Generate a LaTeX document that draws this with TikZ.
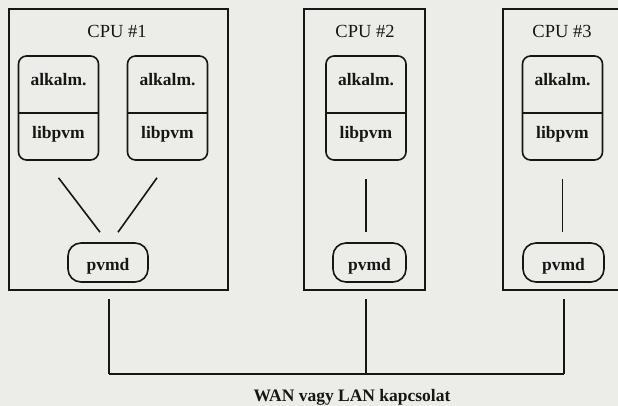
\documentclass[tikz,border=0pt]{standalone}
\usepackage{fontspec}
\setmainfont{Liberation Serif}
\definecolor{paper}{RGB}{236,236,232}
\definecolor{ink}{RGB}{22,22,22}
\begin{document}
\begin{tikzpicture}[x=1pt, y=-1pt, color=ink, line width=1.6pt,
      cpubox/.style={draw, minimum height=281pt},
      appbox/.style={draw, rounded corners=8pt, minimum width=80pt, minimum height=104pt},
      pvmdbox/.style={draw, rounded corners=13pt, minimum height=39pt, text height=19pt, text depth=3pt, font=\fontsize{17.5}{20}\selectfont\bfseries},
      cpulbl/.style={anchor=base, font=\fontsize{18.5}{20}\selectfont},
      applbl/.style={anchor=base, font=\fontsize{17.5}{20}\selectfont\bfseries},
      conn/.style={line width=1.6pt},
      bus/.style={line width=2.6pt}]
    \fill[paper] (0,0) rectangle (618,406);
    \useasboundingbox (0,0) rectangle (618,406);
    % the three machines
    \node[cpubox, minimum width=219pt] (cpu1) at (118.5,149.5) {};
    \node[cpubox, minimum width=121pt] (cpu2) at (364.5,149.5) {};
    \node[cpubox, minimum width=122pt] (cpu3) at (564,149.5) {};
    \node[cpulbl] (cpu1lbl) at (117,38) {CPU \#1};
    \node[cpulbl] (cpu2lbl) at (365,38) {CPU \#2};
    \node[cpulbl] (cpu3lbl) at (562,38) {CPU \#3};
    % application processes
    \node[appbox] (app1) at (58.5,108) {};
    \node[appbox] (app2) at (167.5,108) {};
    \node[appbox] (app3) at (366,108) {};
    \node[appbox] (app4) at (562.5,108) {};
    \draw ([yshift=-5pt]app1.west) -- ([yshift=-5pt]app1.east);
    \draw ([yshift=-5pt]app2.west) -- ([yshift=-5pt]app2.east);
    \draw ([yshift=-5pt]app3.west) -- ([yshift=-5pt]app3.east);
    \draw ([yshift=-5pt]app4.west) -- ([yshift=-5pt]app4.east);
    \node[applbl] (alk1) at ([yshift=22pt]app1.center) {alkalm.};
    \node[applbl] (alk2) at ([yshift=22pt]app2.center) {alkalm.};
    \node[applbl] (alk3) at ([yshift=22pt]app3.center) {alkalm.};
    \node[applbl] (alk4) at ([yshift=22pt]app4.center) {alkalm.};
    \node[applbl] (lib1) at ([yshift=-31pt]app1.center) {libpvm};
    \node[applbl] (lib2) at ([yshift=-31pt]app2.center) {libpvm};
    \node[applbl] (lib3) at ([yshift=-31pt]app3.center) {libpvm};
    \node[applbl] (lib4) at ([yshift=-31pt]app4.center) {libpvm};
    % daemons
    \node[pvmdbox, minimum width=80pt] (pvmd1) at (108,262.5) {pvmd};
    \node[pvmdbox, minimum width=73pt] (pvmd2) at (369.5,262.5) {pvmd};
    \node[pvmdbox, minimum width=81pt] (pvmd3) at (563.5,262.5) {pvmd};
    \draw[conn] ([yshift=-17pt]app1.south) -- ([shift={(-8pt,10pt)}]pvmd1.north);
    \draw[conn] ([shift={(-10.5pt,-17pt)}]app2.south) -- ([shift={(10pt,10pt)}]pvmd1.north);
    \draw[conn] ([yshift=-18pt]app3.south) -- ([shift={(-3.5pt,10pt)}]pvmd2.north);
    \draw[conn] ([yshift=-18pt]app4.south) -- ([shift={(-1pt,10pt)}]pvmd3.north);
    % network
    \coordinate (tap1) at (109,299);
    \coordinate (tap2) at (366,299);
    \coordinate (tap3) at (564,299);
    \coordinate (lan1) at (109,374);
    \coordinate (lan2) at (366,374);
    \coordinate (lan3) at (564,374);
    \draw[conn] (tap1) -- (lan1);
    \draw[conn] (tap2) -- (lan2);
    \draw[conn] (tap3) -- (lan3);
    \draw[bus] (lan1) -- (lan3);
    \node[applbl] (lan) at (352,401) {WAN vagy LAN kapcsolat};
\end{tikzpicture}
\end{document}
